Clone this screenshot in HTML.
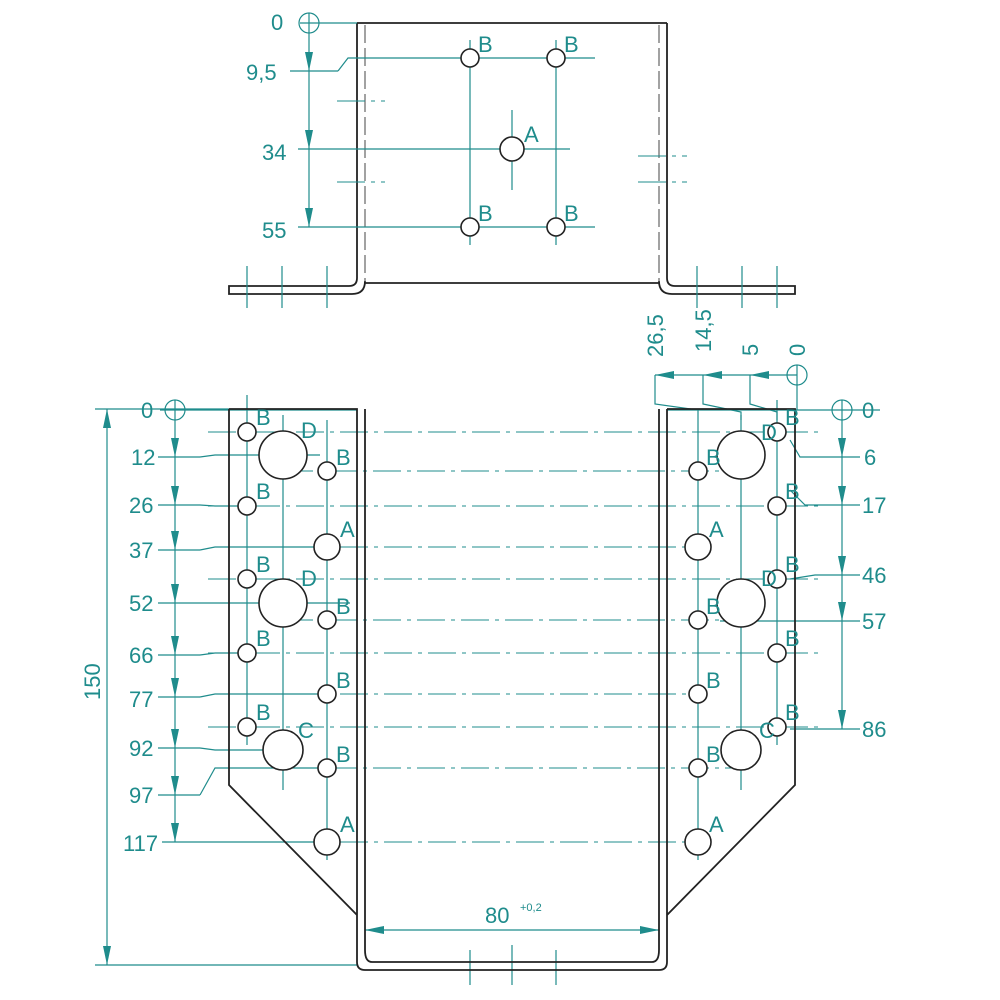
<!DOCTYPE html>
<html><head><meta charset="utf-8"><style>
html,body{margin:0;padding:0;background:#fff;width:1000px;height:1000px;overflow:hidden}
svg{display:block}
text{font-family:"Liberation Sans",sans-serif;fill:#1f8c8c;font-size:22px}
.t{stroke:#1f8c8c;stroke-width:1.2;fill:none}
.c{stroke:#1f8c8c;stroke-width:1.1;fill:none;stroke-dasharray:28 6 4 6}
.k{stroke:#222;stroke-width:1.8;fill:none}
.h{stroke:#222;stroke-width:1.6;fill:#fff}
.d{stroke:#444;stroke-width:1;fill:none;stroke-dasharray:4 3}
.a{fill:#1f8c8c}
</style></head><body>
<svg width="1000" height="1000" viewBox="0 0 1000 1000">
<!-- ===== TOP VIEW ===== -->
<path class="k" d="M357 23 H667 M357 23 V278 Q357 286 349 286 H229 V294 H352 Q365 294 365 281 M667 23 V278 Q667 286 675 286 H795 V294 H672 Q659 294 659 281 M365 283 H659"/>
<line class="d" x1="365" y1="25" x2="365" y2="282" style="stroke-dasharray:18 5"/>
<line class="d" x1="659" y1="25" x2="659" y2="282" style="stroke-dasharray:18 5"/>
<line class="t" x1="300" y1="23" x2="357" y2="23"/>
<line class="t" x1="290" y1="71" x2="338" y2="71"/><polyline class="t" points="338,71 348,58 595,58"/>
<line class="t" x1="298" y1="149" x2="570" y2="149"/>
<line class="t" x1="298" y1="227" x2="595" y2="227"/>
<line class="t" x1="470" y1="40" x2="470" y2="245"/>
<line class="t" x1="556" y1="40" x2="556" y2="245"/>
<line class="t" x1="512" y1="110" x2="512" y2="190"/>
<line class="c" x1="337" y1="101" x2="385" y2="101"/><line class="c" x1="337" y1="182" x2="385" y2="182"/>
<line class="c" x1="638" y1="156" x2="687" y2="156"/><line class="c" x1="638" y1="182" x2="687" y2="182"/>
<line class="t" x1="247" y1="266" x2="247" y2="308"/><line class="t" x1="282" y1="266" x2="282" y2="308"/><line class="t" x1="327" y1="266" x2="327" y2="308"/>
<line class="t" x1="697" y1="266" x2="697" y2="308"/><line class="t" x1="742" y1="266" x2="742" y2="308"/><line class="t" x1="777" y1="266" x2="777" y2="308"/>
<circle class="h" cx="470" cy="58" r="9"/><circle class="h" cx="556" cy="58" r="9"/>
<circle class="h" cx="470" cy="227" r="9"/><circle class="h" cx="556" cy="227" r="9"/>
<circle class="h" cx="512" cy="149" r="12"/>
<text x="478" y="52">B</text><text x="564" y="52">B</text><text x="478" y="221">B</text><text x="564" y="221">B</text><text x="524" y="142">A</text>
<circle class="t" cx="309" cy="23" r="10"/><line class="t" x1="309" y1="13" x2="309" y2="227"/>
<polygon class="a" points="305,52 313,52 309,71"/><polygon class="a" points="305,130 313,130 309,149"/><polygon class="a" points="305,208 313,208 309,227"/>
<text x="271" y="30">0</text><text x="246" y="80">9,5</text><text x="262" y="160">34</text><text x="262" y="238">55</text>

<!-- ===== BOTTOM VIEW ===== -->
<g class="c">
<line x1="208" y1="432" x2="818" y2="432"/><line x1="208" y1="506" x2="818" y2="506"/><line x1="208" y1="579" x2="818" y2="579"/>
<line x1="208" y1="653" x2="818" y2="653"/><line x1="208" y1="727" x2="818" y2="727"/>
<line x1="285" y1="471" x2="740" y2="471"/><line x1="285" y1="620" x2="740" y2="620"/><line x1="285" y1="768" x2="740" y2="768"/>
<line x1="340" y1="547" x2="686" y2="547"/><line x1="340" y1="842" x2="686" y2="842"/>
<line x1="340" y1="694" x2="686" y2="694"/>
</g>
<g class="t">
<line x1="160" y1="410" x2="357" y2="410"/>
<line x1="158" y1="457" x2="200" y2="457"/><polyline points="200,457 215,455 320,455"/>
<line x1="158" y1="505" x2="200" y2="505"/><polyline points="200,505 215,506 247,506"/>
<line x1="158" y1="550" x2="200" y2="550"/><polyline points="200,550 215,547 327,547"/>
<line x1="158" y1="603" x2="350" y2="603"/>
<line x1="158" y1="655" x2="200" y2="655"/><polyline points="200,655 215,653 247,653"/>
<line x1="158" y1="697" x2="200" y2="697"/><polyline points="200,697 215,694 327,694"/>
<line x1="158" y1="748" x2="200" y2="748"/><polyline points="200,748 215,750 290,750"/>
<line x1="158" y1="795" x2="200" y2="795"/><polyline points="200,795 215,768 327,768"/>
<line x1="162" y1="842" x2="327" y2="842"/>
<line x1="95" y1="409" x2="229" y2="409"/><line x1="95" y1="965" x2="357" y2="965"/>
<line x1="107" y1="409" x2="107" y2="965"/>
<circle cx="175" cy="410" r="10"/><line x1="175" y1="400" x2="175" y2="842"/>
<line x1="247" y1="395" x2="247" y2="745"/><line x1="283" y1="415" x2="283" y2="790"/><line x1="327" y1="420" x2="327" y2="860"/>
<line x1="777" y1="400" x2="777" y2="745"/><line x1="741" y1="415" x2="741" y2="790"/><line x1="698" y1="420" x2="698" y2="860"/>
<line x1="667" y1="410" x2="880" y2="410"/>
<circle cx="842" cy="410" r="10"/><line x1="842" y1="400" x2="842" y2="729"/>
<polyline points="790,440 800,457 860,457"/><polyline points="790,490 805,505 860,505"/>
<polyline points="790,579 815,575 860,575"/><line x1="720" y1="621" x2="860" y2="621"/>
<line x1="790" y1="729" x2="860" y2="729"/>
<line x1="655" y1="375" x2="797" y2="375"/><circle cx="797" cy="375" r="10"/><line x1="797" y1="365" x2="797" y2="410"/>
<polyline points="655,375 655,404 698,410 698,420"/><polyline points="703,375 703,404 741,412 741,420"/><polyline points="750,375 750,404 777,412 777,420"/>
<line x1="365" y1="930" x2="659" y2="930"/>
<line x1="512" y1="945" x2="512" y2="985"/><line x1="470" y1="950" x2="470" y2="985"/><line x1="556" y1="950" x2="556" y2="985"/>
</g>
<g class="a">
<polygon points="103,428 111,428 107,409"/><polygon points="103,946 111,946 107,965"/>
<polygon points="171,438 179,438 175,457"/><polygon points="171,486 179,486 175,505"/><polygon points="171,531 179,531 175,550"/>
<polygon points="171,584 179,584 175,603"/><polygon points="171,636 179,636 175,655"/><polygon points="171,678 179,678 175,697"/>
<polygon points="171,729 179,729 175,748"/><polygon points="171,776 179,776 175,795"/><polygon points="171,823 179,823 175,842"/>
<polygon points="838,438 846,438 842,457"/><polygon points="838,486 846,486 842,505"/><polygon points="838,556 846,556 842,575"/>
<polygon points="838,602 846,602 842,621"/><polygon points="838,710 846,710 842,729"/>
<polygon points="655,375 674,371 674,379"/><polygon points="703,375 722,371 722,379"/><polygon points="750,375 769,371 769,379"/>
<polygon points="365,930 384,926 384,934"/><polygon points="659,930 640,926 640,934"/>
</g>
<path class="k" d="M229 409 H357 V915 M229 409 V785 L357 915 M365 409 V950 M357 915 V962 Q357 970 365 970 H659 Q667 970 667 962 V915 M365 950 Q365 962 372 962 H652 Q659 962 659 950 V409 M667 409 H795 V785 L667 915 V409"/>
<g class="h">
<circle cx="247" cy="432" r="9"/><circle cx="247" cy="506" r="9"/><circle cx="247" cy="579" r="9"/><circle cx="247" cy="653" r="9"/><circle cx="247" cy="727" r="9"/>
<circle cx="283" cy="455" r="24"/><circle cx="283" cy="603" r="24"/><circle cx="283" cy="750" r="20"/>
<circle cx="327" cy="471" r="9"/><circle cx="327" cy="620" r="9"/><circle cx="327" cy="694" r="9"/><circle cx="327" cy="768" r="9"/>
<circle cx="327" cy="547" r="13"/><circle cx="327" cy="842" r="13"/>
<circle cx="777" cy="432" r="9"/><circle cx="777" cy="506" r="9"/><circle cx="777" cy="579" r="9"/><circle cx="777" cy="653" r="9"/><circle cx="777" cy="727" r="9"/>
<circle cx="741" cy="455" r="24"/><circle cx="741" cy="603" r="24"/><circle cx="741" cy="750" r="20"/>
<circle cx="698" cy="471" r="9"/><circle cx="698" cy="620" r="9"/><circle cx="698" cy="694" r="9"/><circle cx="698" cy="768" r="9"/>
<circle cx="698" cy="547" r="13"/><circle cx="698" cy="842" r="13"/>
</g>
<text x="256" y="425">B</text><text x="256" y="499">B</text><text x="256" y="572">B</text><text x="256" y="646">B</text><text x="256" y="720">B</text>
<text x="301" y="438">D</text><text x="301" y="586">D</text><text x="298" y="738">C</text>
<text x="336" y="465">B</text><text x="336" y="614">B</text><text x="336" y="688">B</text><text x="336" y="762">B</text>
<text x="340" y="537">A</text><text x="340" y="832">A</text>
<text x="785" y="425">B</text><text x="785" y="499">B</text><text x="785" y="572">B</text><text x="785" y="646">B</text><text x="785" y="720">B</text>
<text x="761" y="440">D</text><text x="761" y="586">D</text><text x="759" y="738">C</text>
<text x="706" y="465">B</text><text x="706" y="614">B</text><text x="706" y="688">B</text><text x="706" y="762">B</text>
<text x="709" y="537">A</text><text x="709" y="832">A</text>
<text x="141" y="418">0</text><text x="131" y="465">12</text><text x="129" y="513">26</text><text x="129" y="558">37</text>
<text x="129" y="611">52</text><text x="129" y="663">66</text><text x="129" y="707">77</text><text x="129" y="756">92</text>
<text x="129" y="803">97</text><text x="123" y="851">117</text>
<text x="100" y="700" transform="rotate(-90 100 700)">150</text>
<text x="862" y="418">0</text><text x="864" y="465">6</text><text x="862" y="513">17</text><text x="862" y="583">46</text>
<text x="862" y="629">57</text><text x="862" y="737">86</text>
<text x="663" y="357" transform="rotate(-90 663 357)">26,5</text>
<text x="711" y="352" transform="rotate(-90 711 352)">14,5</text>
<text x="758" y="356" transform="rotate(-90 758 356)">5</text>
<text x="805" y="356" transform="rotate(-90 805 356)">0</text>
<text x="485" y="923">80</text><text x="520" y="911" style="font-size:11px">+0,2</text>
</svg>
</body></html>
